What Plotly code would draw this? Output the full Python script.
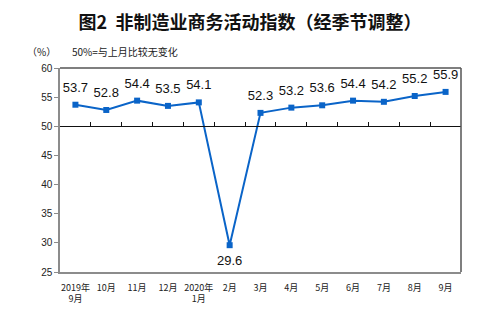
import plotly.graph_objects as go

categories = ["2019年<br>9月", "10月", "11月", "12月", "2020年<br>1月", "2月", "3月",
              "4月", "5月", "6月", "7月", "8月", "9月"]
values = [53.7, 52.8, 54.4, 53.5, 54.1, 29.6, 52.3, 53.2, 53.6, 54.4, 54.2, 55.2, 55.9]
yticks = [25, 30, 35, 40, 45, 50, 55, 60]

FONT = "Liberation Sans, Noto Sans CJK SC, sans-serif"
CJK = "Noto Sans CJK SC"
BLUE = "#0a64c8"

positions = ["bottom center" if v < 40 else "top center" for v in values]

fig = go.Figure()
fig.add_trace(go.Scatter(
    x=categories, y=values, mode="lines+markers",
    line=dict(color=BLUE, width=2),
    marker=dict(symbol="square", size=6, color=BLUE),
    showlegend=False, xaxis="x", yaxis="y",
))
# labels: transparent markers enlarge the text offset
fig.add_trace(go.Scatter(
    x=categories, y=values, mode="markers+text",
    marker=dict(size=14, color="rgba(0,0,0,0)"),
    text=[f"{v:.1f}" for v in values], textposition=positions,
    textfont=dict(family=FONT, size=13, color="#111111"),
    cliponaxis=False, showlegend=False, hoverinfo="skip", xaxis="x", yaxis="y",
))
# invisible trace to drive the 50-line axis
fig.add_trace(go.Scatter(x=categories, y=values, mode="none", showlegend=False,
                         hoverinfo="skip", xaxis="x2", yaxis="y"))

fig.update_layout(
    width=500, height=324,
    margin=dict(l=60, r=39, t=68, b=52),
    paper_bgcolor="white", plot_bgcolor="white",
    font=dict(family=FONT, color="#222222"),
    title=dict(text="<b>图2  非制造业商务活动指数（经季节调整）</b>",
               x=0.5, xanchor="center", y=0.93, yanchor="middle",
               font=dict(size=18, family=CJK, color="#111111")),
    xaxis=dict(type="category", showgrid=False, showline=True, linecolor="#8c8c8c",
               linewidth=1.5, mirror=False, ticks="", ticklabelstandoff=6,
               tickfont=dict(size=9, family=CJK, color="#222222"),
               zeroline=False, range=[-0.5, 12.5], fixedrange=True),
    xaxis2=dict(type="category", overlaying="x", anchor="free",
                position=(50 - yticks[0]) / (yticks[-1] - yticks[0]),
                showline=True, linecolor="#111111", linewidth=1,
                ticks="inside", ticklen=4, tickcolor="#111111", tickson="boundaries",
                showticklabels=False, showgrid=False, range=[-0.5, 12.5], side="bottom"),
    yaxis=dict(range=[yticks[0], yticks[-1]], tickvals=yticks, showgrid=False, showline=True,
               linecolor="#8c8c8c", linewidth=1.5, ticks="outside", ticklen=4,
               tickcolor="#8c8c8c", tickfont=dict(size=10, color="#222222"), zeroline=False),
    shapes=[
        dict(type="line", xref="paper", yref="paper", x0=0, x1=1, y0=1, y1=1,
             line=dict(color="#555555", width=1.5)),
        dict(type="line", xref="paper", yref="paper", x0=1, x1=1, y0=0, y1=1,
             line=dict(color="#555555", width=1.5)),
    ],
    annotations=[
        dict(text="（%）", xref="paper", yref="paper", x=-0.045, y=1.08, xanchor="center",
             yanchor="middle", showarrow=False, font=dict(size=10, family=CJK, color="#222222")),
        dict(text="50%=与上月比较无变化", xref="paper", yref="paper", x=0.025, y=1.08,
             xanchor="left", yanchor="middle", showarrow=False,
             font=dict(size=10, family=CJK, color="#222222")),
    ],
)

fig.write_html("out.html")
